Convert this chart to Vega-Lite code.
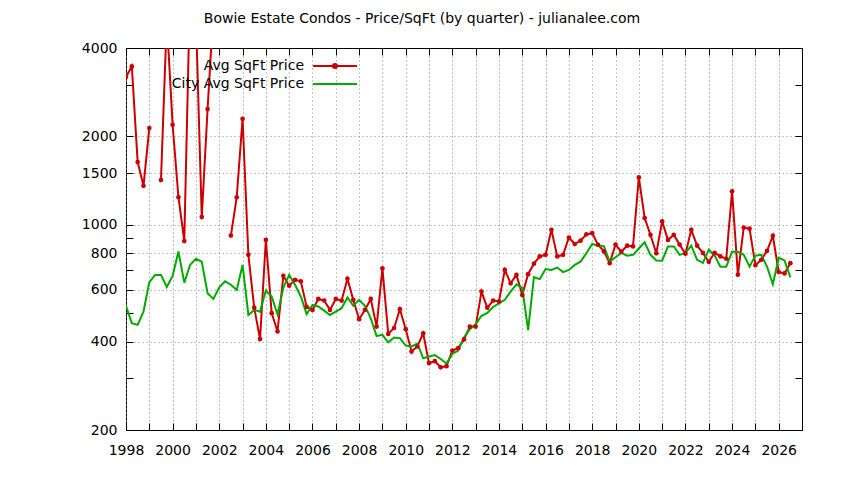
{
  "$schema": "https://vega.github.io/schema/vega-lite/v6.json",
  "autosize": {"type": "none"},
  "width": 676,
  "height": 382,
  "padding": {"left": 126, "top": 48, "right": 42, "bottom": 50},
  "background": "white",
  "title": {"text": "Bowie Estate Condos - Price/SqFt (by quarter) - julianalee.com", "font": "DejaVu Sans", "fontSize": 14, "fontWeight": "normal", "color": "black", "anchor": "middle", "dx": -42, "offset": 4, "baseline": "alphabetic"},
  "config": {
    "view": {"stroke": "black", "strokeWidth": 1},
    "axis": {"labelFont": "DejaVu Sans", "labelFontSize": 14, "labelColor": "black", "domain": false, "tickColor": "black", "tickWidth": 1, "gridColor": "#888888", "gridDash": [1, 3], "gridWidth": 1, "title": null}
  },
  "data": {"values": [
    {"t":1998.0,"avg":3185,"city":530},{"t":1998.25,"avg":3463,"city":462},{"t":1998.5,"avg":1635,"city":456},{"t":1998.75,"avg":1357,"city":506},
    {"t":1999.0,"avg":2134,"city":638},{"t":1999.25,"avg":null,"city":675},{"t":1999.5,"avg":1420,"city":675},{"t":1999.75,"avg":5000,"city":614},
    {"t":2000.0,"avg":2190,"city":670},{"t":2000.25,"avg":1241,"city":811},{"t":2000.5,"avg":880,"city":635},{"t":2000.75,"avg":6500,"city":730},
    {"t":2001.0,"avg":5100,"city":766},{"t":2001.25,"avg":1062,"city":749},{"t":2001.5,"avg":2478,"city":585},{"t":2001.75,"avg":5400,"city":559},
    {"t":2002.0,"avg":null,"city":612},{"t":2002.25,"avg":null,"city":642},{"t":2002.5,"avg":919,"city":625},{"t":2002.75,"avg":1241,"city":600},
    {"t":2003.0,"avg":2296,"city":730},{"t":2003.25,"avg":790,"city":493},{"t":2003.5,"avg":522,"city":513},{"t":2003.75,"avg":408,"city":506},
    {"t":2004.0,"avg":888,"city":597},{"t":2004.25,"avg":500,"city":570},{"t":2004.5,"avg":433,"city":495},{"t":2004.75,"avg":670,"city":611},
    {"t":2005.0,"avg":620,"city":675},{"t":2005.25,"avg":649,"city":625},{"t":2005.5,"avg":642,"city":570},{"t":2005.75,"avg":525,"city":496},
    {"t":2006.0,"avg":513,"city":533},{"t":2006.25,"avg":559,"city":527},{"t":2006.5,"avg":552,"city":510},{"t":2006.75,"avg":513,"city":493},
    {"t":2007.0,"avg":559,"city":506},{"t":2007.25,"avg":552,"city":520},{"t":2007.5,"avg":655,"city":566},{"t":2007.75,"avg":555,"city":530},
    {"t":2008.0,"avg":477,"city":555},{"t":2008.25,"avg":513,"city":530},{"t":2008.5,"avg":559,"city":480},{"t":2008.75,"avg":450,"city":418},
    {"t":2009.0,"avg":710,"city":422},{"t":2009.25,"avg":425,"city":398},{"t":2009.5,"avg":445,"city":413},{"t":2009.75,"avg":516,"city":411},
    {"t":2010.0,"avg":441,"city":388},{"t":2010.25,"avg":370,"city":385},{"t":2010.5,"avg":385,"city":394},{"t":2010.75,"avg":427,"city":351},
    {"t":2011.0,"avg":338,"city":356},{"t":2011.25,"avg":343,"city":360},{"t":2011.5,"avg":327,"city":349},{"t":2011.75,"avg":330,"city":337},
    {"t":2012.0,"avg":373,"city":363},{"t":2012.25,"avg":380,"city":373},{"t":2012.5,"avg":407,"city":413},{"t":2012.75,"avg":450,"city":441},
    {"t":2013.0,"avg":450,"city":458},{"t":2013.25,"avg":592,"city":490},{"t":2013.5,"avg":522,"city":501},{"t":2013.75,"avg":552,"city":525},
    {"t":2014.0,"avg":548,"city":540},{"t":2014.25,"avg":702,"city":555},{"t":2014.5,"avg":632,"city":592},{"t":2014.75,"avg":675,"city":627},
    {"t":2015.0,"avg":577,"city":610},{"t":2015.25,"avg":679,"city":438},{"t":2015.5,"avg":737,"city":663},{"t":2015.75,"avg":780,"city":653},
    {"t":2016.0,"avg":790,"city":707},{"t":2016.25,"avg":961,"city":702},{"t":2016.5,"avg":780,"city":715},{"t":2016.75,"avg":790,"city":690},
    {"t":2017.0,"avg":905,"city":702},{"t":2017.25,"avg":860,"city":730},{"t":2017.5,"avg":883,"city":749},{"t":2017.75,"avg":928,"city":800},
    {"t":2018.0,"avg":936,"city":860},{"t":2018.25,"avg":855,"city":849},{"t":2018.5,"avg":812,"city":845},{"t":2018.75,"avg":740,"city":749},
    {"t":2019.0,"avg":856,"city":775},{"t":2019.25,"avg":810,"city":802},{"t":2019.5,"avg":849,"city":785},{"t":2019.75,"avg":844,"city":790},
    {"t":2020.0,"avg":1450,"city":830},{"t":2020.25,"avg":1054,"city":872},{"t":2020.5,"avg":924,"city":790},{"t":2020.75,"avg":800,"city":756},
    {"t":2021.0,"avg":1028,"city":754},{"t":2021.25,"avg":888,"city":844},{"t":2021.5,"avg":924,"city":844},{"t":2021.75,"avg":856,"city":790},
    {"t":2022.0,"avg":797,"city":802},{"t":2022.25,"avg":961,"city":849},{"t":2022.5,"avg":849,"city":760},{"t":2022.75,"avg":802,"city":742},
    {"t":2023.0,"avg":748,"city":822},{"t":2023.25,"avg":802,"city":787},{"t":2023.5,"avg":780,"city":720},{"t":2023.75,"avg":766,"city":720},
    {"t":2024.0,"avg":1300,"city":810},{"t":2024.25,"avg":676,"city":810},{"t":2024.5,"avg":978,"city":790},{"t":2024.75,"avg":970,"city":720},
    {"t":2025.0,"avg":728,"city":785},{"t":2025.25,"avg":760,"city":790},{"t":2025.5,"avg":815,"city":720},{"t":2025.75,"avg":917,"city":627},
    {"t":2026.0,"avg":690,"city":772},{"t":2026.25,"avg":683,"city":756},{"t":2026.5,"avg":740,"city":662}
  ]},
  "transform": [{"fold": ["avg", "city"], "as": ["series", "v"]}],
  "layer": [
    {
      "mark": {"type": "line", "clip": true, "strokeWidth": 2, "invalid": "break-paths-filter-domains"},
      "encoding": {
        "x": {"field": "t", "type": "quantitative", "scale": {"domain": [1998, 2027], "nice": false, "zero": false},
          "axis": {"orient": "bottom", "values": [1998,1999,2000,2001,2002,2003,2004,2005,2006,2007,2008,2009,2010,2011,2012,2013,2014,2015,2016,2017,2018,2019,2020,2021,2022,2023,2024,2025,2026],
            "format": "d", "labelExpr": "datum.value % 2 === 0 ? datum.label : ''", "tickSize": -7, "labelPadding": 20, "grid": true, "labelFlush": false, "labelOverlap": false}},
        "y": {"field": "v", "type": "quantitative", "scale": {"type": "log", "domain": [200, 4000], "nice": false, "zero": false},
          "axis": {"orient": "left", "values": [200,300,400,500,600,700,800,900,1000,1500,2000,3000,4000], "format": "d",
            "labelExpr": "indexof([200,400,600,800,1000,1500,2000,4000], datum.value) >= 0 ? datum.label : ''",
            "tickSize": -7, "labelPadding": 16, "grid": true, "labelOverlap": false, "labelFlush": false,
            "gridOpacity": {"condition": {"test": "indexof([400,600,800,1000,1500,2000], datum.value) >= 0", "value": 1}, "value": 0}}},
        "color": {"field": "series", "type": "nominal", "scale": {"domain": ["avg", "city"], "range": ["#cc0000", "#00aa00"]},
          "legend": {"orient": "none", "legendX": 198, "legendY": 7, "direction": "vertical", "title": null, "symbolType": "M-2.2,0H2.2", "symbolSize": 400, "symbolStrokeWidth": 2,
            "labelAlign": "right", "labelOffset": -42, "labelFont": "DejaVu Sans", "labelFontSize": 14, "labelColor": "black", "rowPadding": 0, "padding": 0,
            "labelExpr": "datum.value === 'avg' ? 'Avg SqFt Price' : 'City Avg SqFt Price'",
            "encode": {"symbols": {"update": {
              "shape": {"signal": "datum.value === 'avg' ? 'M-2.2,0H2.2M-0.2,0A0.2,0.2,0,1,0,0.2,0A0.2,0.2,0,1,0,-0.2,0' : 'M-2.2,0H2.2'"},
              "fill": {"signal": "datum.value === 'avg' ? '#cc0000' : 'transparent'"}}}}}}
      }
    },
    {
      "transform": [{"filter": "datum.series === 'avg' && isValid(datum.v)"}],
      "mark": {"type": "point", "filled": true, "size": 22, "clip": true, "color": "#cc0000", "opacity": 1},
      "encoding": {
        "x": {"field": "t", "type": "quantitative", "scale": {"domain": [1998, 2027], "nice": false, "zero": false},
          "axis": {"orient": "top", "values": [1998,1999,2000,2001,2002,2003,2004,2005,2006,2007,2008,2009,2010,2011,2012,2013,2014,2015,2016,2017,2018,2019,2020,2021,2022,2023,2024,2025,2026], "labels": false, "tickSize": -7, "grid": false}},
        "y": {"field": "v", "type": "quantitative", "scale": {"type": "log", "domain": [200, 4000], "nice": false, "zero": false},
          "axis": {"orient": "right", "values": [200,300,400,500,600,700,800,900,1000,1500,2000,3000,4000], "labels": false, "tickSize": -7, "grid": false}}
      }
    }
  ],
  "resolve": {"axis": {"x": "independent", "y": "independent"}}
}
